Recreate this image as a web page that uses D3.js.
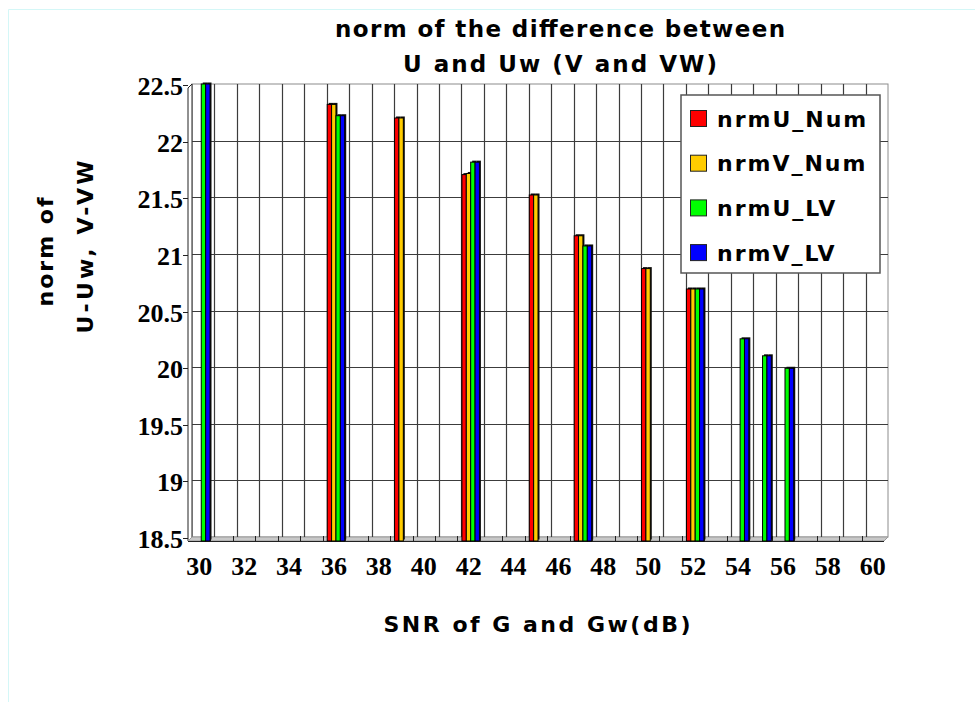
<!DOCTYPE html>
<html>
<head>
<meta charset="utf-8">
<script src="https://cdn.jsdelivr.net/npm/d3@7"></script>
<style>
  body { margin: 0; background: #fff; }
  text { fill: #000; }
</style>
</head>
<body>
<div id="chart"></div>
<script>
// x categories (every SNR value gets a slot, labels on every second one)
var snrCategories = d3.range(30, 61);
var snrTickLabels = [30, 32, 34, 36, 38, 40, 42, 44, 46, 48, 50, 52, 54, 56, 58, 60];
var yTickValues = [18.5, 19, 19.5, 20, 20.5, 21, 21.5, 22, 22.5];

// SNR values that actually have bars
var barSnr = [30, 36, 39, 42, 45, 47, 50, 52, 54, 55, 56];
var nrmU_Num = [null, 22.32, 22.20, 21.70, 21.52, 21.16, 20.87, 20.69, null, null, null];
var nrmV_Num = [null, 22.32, 22.20, 21.71, 21.52, 21.16, 20.87, 20.69, null, null, null];
var nrmU_LV  = [22.5, 22.22, null, 21.81, null, 21.07, null, 20.69, 20.25, 20.10, 19.99];
var nrmV_LV  = [22.5, 22.22, null, 21.81, null, 21.07, null, 20.69, 20.25, 20.10, 19.99];

var seriesNames = ["nrmU_Num", "nrmV_Num", "nrmU_LV", "nrmV_LV"];
var seriesValues = [nrmU_Num, nrmV_Num, nrmU_LV, nrmV_LV];
var seriesColors = ["#ff0000", "#ffcc00", "#00ff00", "#0000ff"];

var width = 975, height = 702;
// back wall of the plot and the fake 3d depth
var wall = {left: 192, right: 888, top: 84, bottom: 537};
var depth = 4;

var svg = d3.select("#chart").append("svg")
    .attr("width", width)
    .attr("height", height);

// light frame round the picture
svg.append("path")
    .attr("d", "M8.5," + height + "V9.5H" + width)
    .attr("fill", "none")
    .attr("stroke", "#d4f7f7");

var x = d3.scaleBand()
    .domain(snrCategories)
    .range([wall.left, wall.right]);

var y = d3.scaleLinear()
    .domain([18.5, 22.5])
    .range([wall.bottom, wall.top]);

// sub band for the four series inside one slot
var xs = d3.scaleBand()
    .domain(seriesNames)
    .range([0.5, x.bandwidth() * 0.78 + 0.5]);

// back wall
svg.append("rect")
    .attr("x", wall.left)
    .attr("y", wall.top)
    .attr("width", wall.right - wall.left)
    .attr("height", wall.bottom - wall.top)
    .attr("fill", "#fff")
    .attr("stroke", "#8c8c8c");

// left wall
svg.append("path")
    .attr("d", "M" + (wall.left - depth) + "," + (wall.top + depth) +
        "L" + wall.left + "," + wall.top +
        "L" + wall.left + "," + wall.bottom +
        "L" + (wall.left - depth) + "," + (wall.bottom + depth) + "Z")
    .attr("fill", "#fff")
    .attr("stroke", "#222");

// floor
svg.append("path")
    .attr("d", "M" + wall.left + "," + wall.bottom +
        "L" + wall.right + "," + wall.bottom +
        "L" + (wall.right - depth) + "," + (wall.bottom + depth) +
        "L" + (wall.left - depth) + "," + (wall.bottom + depth) + "Z")
    .attr("fill", "#c8c8c8")
    .attr("stroke", "#9a9a9a");
svg.append("line")
    .attr("x1", wall.left - depth).attr("x2", wall.right - depth)
    .attr("y1", wall.bottom + depth + 0.5).attr("y2", wall.bottom + depth + 0.5)
    .attr("stroke", "#222");

// horizontal grid
svg.append("g")
    .selectAll("line")
    .data(yTickValues.slice(1, -1))
    .enter().append("line")
      .attr("x1", wall.left)
      .attr("x2", wall.right)
      .attr("y1", function(d) { return Math.round(y(d)) + 0.5; })
      .attr("y2", function(d) { return Math.round(y(d)) + 0.5; })
      .attr("stroke", "#3c3c3c")
      .attr("stroke-width", 1.2);

// vertical grid on slot borders
svg.append("g")
    .selectAll("line")
    .data(snrCategories.slice(1))
    .enter().append("line")
      .attr("x1", function(d) { return Math.round(x(d)) + 0.5; })
      .attr("x2", function(d) { return Math.round(x(d)) + 0.5; })
      .attr("y1", wall.top)
      .attr("y2", wall.bottom)
      .attr("stroke", "#3c3c3c")
      .attr("stroke-width", 1.2);

// small ticks on the front edge of the floor
svg.append("g")
    .selectAll("line")
    .data(snrCategories.slice(1))
    .enter().append("line")
      .attr("x1", function(d) { return Math.round(x(d)) - depth + 0.5; })
      .attr("x2", function(d) { return Math.round(x(d)) - depth + 0.5; })
      .attr("y1", wall.bottom - 1)
      .attr("y2", wall.bottom + depth)
      .attr("stroke", "#222");

// bars, one group per SNR value
var barData = barSnr.map(function(snr, i) {
  return {snr: snr, values: seriesNames.map(function(name, k) {
    return {key: name, value: seriesValues[k][i], color: seriesColors[k]};
  }).filter(function(v) { return v.value !== null; })};
});

var groups = svg.append("g")
    .selectAll("g")
    .data(barData)
    .enter().append("g")
      .attr("transform", function(d) { return "translate(" + x(d.snr) + ",0)"; });

// dark depth behind every bar (top and right side)
groups.selectAll(".depth")
    .data(function(d) { return d.values; })
    .enter().append("rect")
      .attr("class", "depth")
      .attr("x", function(d) { return xs(d.key) + 1.5; })
      .attr("y", function(d) { return y(d.value) - 1.5; })
      .attr("width", xs.bandwidth())
      .attr("height", function(d) { return wall.bottom + depth - y(d.value); })
      .attr("fill", "#111");

groups.selectAll(".bar")
    .data(function(d) { return d.values; })
    .enter().append("rect")
      .attr("class", "bar")
      .attr("x", function(d) { return xs(d.key); })
      .attr("y", function(d) { return y(d.value); })
      .attr("width", xs.bandwidth())
      .attr("height", function(d) { return wall.bottom + depth - y(d.value); })
      .attr("fill", function(d) { return d.color; })
      .attr("stroke", "#000")
      .attr("stroke-width", 1);

// y axis ticks and labels
var yAxis = svg.append("g");
yAxis.selectAll("line")
    .data(yTickValues)
    .enter().append("line")
      .attr("x1", wall.left - depth - 5)
      .attr("x2", wall.left - depth)
      .attr("y1", function(d) { return Math.round(y(d)) + 1.5; })
      .attr("y2", function(d) { return Math.round(y(d)) + 1.5; })
      .attr("stroke", "#222");
yAxis.selectAll("text")
    .data(yTickValues)
    .enter().append("text")
      .attr("x", 183)
      .attr("y", function(d) { return y(d) + 2; })
      .attr("dy", "0.35em")
      .attr("text-anchor", "end")
      .attr("font-family", "Liberation Serif, Times New Roman, serif")
      .attr("font-weight", "bold")
      .attr("font-size", 26)
      .text(function(d) { return d; });

// x labels
svg.append("g")
    .selectAll("text")
    .data(snrTickLabels)
    .enter().append("text")
      .attr("x", function(d) { return x(d) + x.bandwidth() / 2 - 4; })
      .attr("y", 575)
      .attr("text-anchor", "middle")
      .attr("font-family", "Liberation Serif, Times New Roman, serif")
      .attr("font-weight", "bold")
      .attr("font-size", 26)
      .text(function(d) { return d; });

// titles
var sans = "DejaVu Sans, Verdana, sans-serif";
function label(txt, px, py, len, size, rotate) {
  var t = svg.append("text")
      .attr("text-anchor", "middle")
      .attr("font-family", sans)
      .attr("font-weight", "bold")
      .attr("font-size", size)
      .attr("textLength", len)
      .attr("lengthAdjust", "spacing")
      .text(txt);
  if (rotate) {
    t.attr("transform", "translate(" + px + "," + py + ") rotate(-90)");
  } else {
    t.attr("x", px).attr("y", py);
  }
  return t;
}
label("norm of the difference between", 560, 37, 450, 23);
label("U and Uw (V and VW)", 560, 72, 314, 23);
label("SNR of G and Gw(dB)", 537, 632, 307, 22);
label("norm of", 53, 252, 109, 22, true);
label("U-Uw, V-VW", 93, 247, 173, 22, true);

// legend
var legend = svg.append("g")
    .attr("transform", "translate(681,95)");
legend.append("rect")
    .attr("width", 199)
    .attr("height", 178)
    .attr("fill", "#fff")
    .attr("stroke", "#555")
    .attr("stroke-width", 1.5);
var items = legend.selectAll(".item")
    .data(seriesNames)
    .enter().append("g")
      .attr("class", "item")
      .attr("transform", function(d, i) { return "translate(0," + (24 + i * 44.7) + ")"; });
items.append("rect")
    .attr("x", 9.5)
    .attr("y", -8.5)
    .attr("width", 16)
    .attr("height", 16)
    .attr("fill", function(d, i) { return seriesColors[i]; })
    .attr("stroke", "#222");
items.append("text")
    .attr("x", 36)
    .attr("dy", "0.35em")
    .attr("font-family", sans)
    .attr("font-weight", "bold")
    .attr("font-size", 22)
    .attr("letter-spacing", 2)
    .text(function(d) { return d; });
</script>
</body>
</html>
